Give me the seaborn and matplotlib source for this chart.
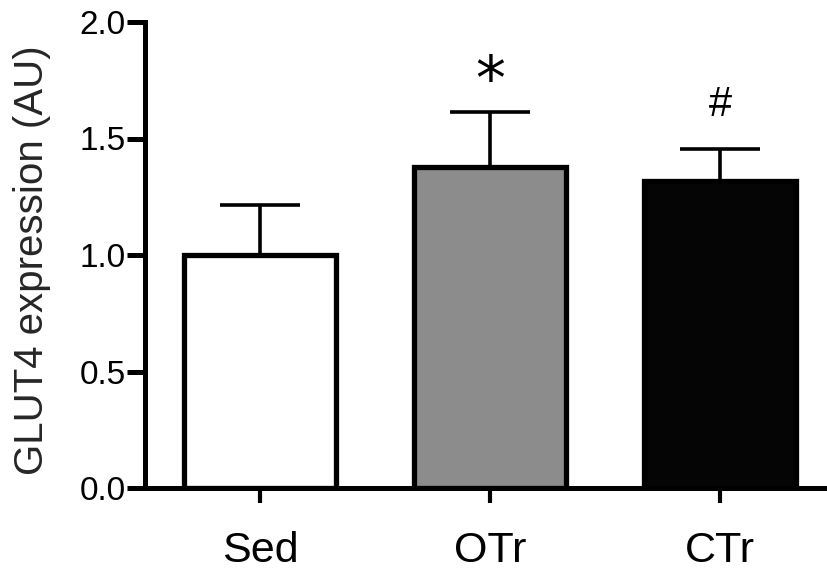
import matplotlib
matplotlib.use("Agg")
import matplotlib.pyplot as plt
import seaborn as sns
import pandas as pd
import numpy as np

groups = ["Sed", "OTr", "CTr"]
means = [1.00, 1.378, 1.318]
sems = [0.215, 0.236, 0.137]
colors = ["#ffffff", "#8c8c8c", "#050505"]
marks = ["", "*", "#"]
yticks = [0.0, 0.5, 1.0, 1.5, 2.0]
ylabel = "GLUT4 expression (AU)"

mark_style = {"*": dict(fontsize=43, offset=0.128, family=["DejaVu Sans"]),
              "#": dict(fontsize=30, offset=0.19, family=["Liberation Sans", "DejaVu Sans"])}

sns.set_style("ticks")
plt.rcParams['font.family'] = ['Liberation Sans', 'DejaVu Sans']

fig = plt.figure(figsize=(8.27, 5.71), dpi=100)
ax = fig.add_axes([145/827, 83/571, 682/827, 466/571])

df = pd.DataFrame({"group": groups, "mean": means})
sns.barplot(data=df, x="group", y="mean", hue="group", palette=colors,
            saturation=1, legend=False, width=0.66, edgecolor="black",
            linewidth=3.8, errorbar=None, ax=ax, zorder=3)

x = np.arange(len(groups))
ax.errorbar(x, means, yerr=[np.zeros(len(sems)), sems], fmt="none",
            ecolor="black", elinewidth=2.6, capsize=29, capthick=2.6, zorder=2)

for xi, m, s, t in zip(x, means, sems, marks):
    if t:
        st = mark_style[t]
        ax.text(xi, m + s + st["offset"], t, ha="center", va="center",
                fontsize=st["fontsize"], family=st["family"], color="black")

ax.set_xlim(-0.5, 2.465)
ax.set_ylim(0, 2.0)
ax.set_yticks(yticks)
ax.set_yticklabels([f"{v:.1f}" for v in yticks])
ax.set_xlabel("")
ax.set_ylabel(ylabel, fontsize=29)
ax.yaxis.set_label_coords(-0.138, 0.489)

for sp in ["top", "right"]:
    ax.spines[sp].set_visible(False)
for sp in ["left", "bottom"]:
    ax.spines[sp].set_linewidth(3.6)
    ax.spines[sp].set_color("black")

ax.tick_params(axis="y", length=13, width=3.6, labelsize=24, pad=1, colors="black")
ax.tick_params(axis="x", length=11, width=3.0, labelsize=31, pad=20, colors="black")

fig.savefig("out.png", dpi=100)
